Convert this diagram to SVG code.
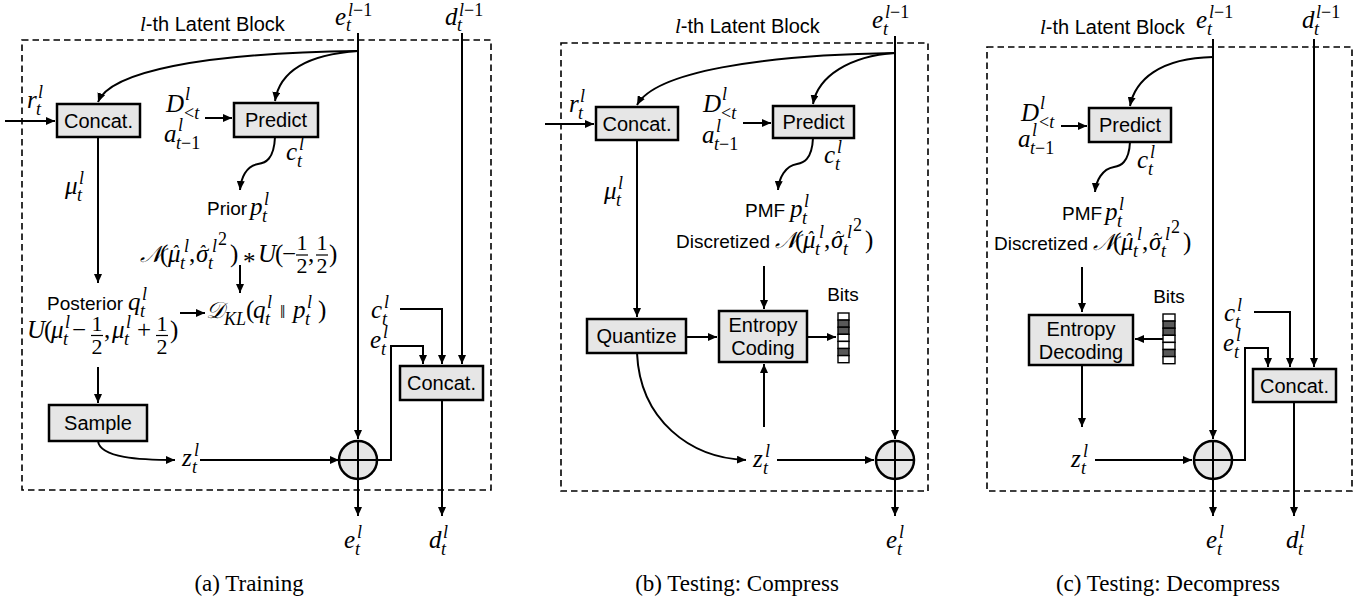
<svg xmlns="http://www.w3.org/2000/svg" width="1369" height="603" viewBox="0 0 1369 603">
<defs>
<style>
.ln{fill:none;stroke:#000;stroke-width:2}
.box{fill:#e6e6e6;stroke:#000;stroke-width:2.5}
.dash{fill:none;stroke:#000;stroke-width:1.6;stroke-dasharray:6.5 4}
.bt{font-family:"Liberation Sans",Arial,sans-serif;font-size:20px;text-anchor:middle;fill:#000}
.t{font-family:"Liberation Sans",Arial,sans-serif;font-size:20px;fill:#000}
.lb{font-family:"Liberation Sans",Arial,sans-serif;font-size:19px;fill:#000}
.m{font-family:"Liberation Serif","Times New Roman",serif;font-style:italic;font-size:25px;fill:#000}
.mi{font-family:"Liberation Serif","Times New Roman",serif;font-style:italic;font-size:21px}
.s{font-size:18px}
.u{font-style:normal}
.d{font-family:"Liberation Serif",serif;font-style:normal;font-size:22px;text-anchor:middle}
.scr{font-family:"DejaVu Serif","DejaVu Sans","Noto Sans",serif;font-style:italic;font-size:23px}
.cap{font-family:"Liberation Serif","Times New Roman",serif;font-size:23px;text-anchor:middle;fill:#000}
.fb{stroke:#000;stroke-width:1.2}
.bw{fill:#fff;stroke:#000;stroke-width:1.4}
.bd{fill:#595959;stroke:#000;stroke-width:1.4}
</style>
<marker id="ah" markerWidth="9" markerHeight="8" refX="9" refY="4" orient="auto" markerUnits="userSpaceOnUse"><path d="M0,0 L9,4 L0,8 z" fill="#000"/></marker>
</defs>
<rect width="1369" height="603" fill="#fff"/>

<!-- ================= Panel (a) ================= -->
<g id="panel-a">
<rect class="dash" x="22" y="40" width="469" height="450"/>
<text class="t" x="140" y="31"><tspan class="mi">l</tspan>-th Latent Block</text>

<g id="a-connectors">
<path class="ln" d="M358,33 V439" marker-end="url(#ah)"/>
<path class="ln" d="M462,33 V364" marker-end="url(#ah)"/>
<path class="ln" d="M358,51 C200,53 110,72 98,102" marker-end="url(#ah)"/>
<path class="ln" d="M358,51 C300,55 279,75 275,101" marker-end="url(#ah)"/>
<path class="ln" d="M5,121 H55" marker-end="url(#ah)"/>
<path class="ln" d="M205,118 H232" marker-end="url(#ah)"/>
<path class="ln" d="M275,137 C274,160 265,163 258,164 C246,166 241,178 240,190" marker-end="url(#ah)"/>
<path class="ln" d="M98,137 V283" marker-end="url(#ah)"/>
<path class="ln" d="M240,265 V293" marker-end="url(#ah)"/>
<path class="ln" d="M180,313 H205" marker-end="url(#ah)"/>
<path class="ln" d="M98,367 V403" marker-end="url(#ah)"/>
<path class="ln" d="M98,441 C100,458 140,460 175,460" marker-end="url(#ah)"/>
<path class="ln" d="M200,460 H339" marker-end="url(#ah)"/>
<path class="ln" d="M378,460 H391 V346 H423 V364" marker-end="url(#ah)"/>
<path class="ln" d="M400,309 H442 V364" marker-end="url(#ah)"/>
<path class="ln" d="M442,400 V516" marker-end="url(#ah)"/>
<path class="ln" d="M358,479 V516" marker-end="url(#ah)"/>
</g>

<g id="a-concat-in">
<rect class="box" x="57" y="104" width="83" height="33"/>
<text class="bt" x="98.5" y="128">Concat.</text>
</g>
<g id="a-predict">
<rect class="box" x="234" y="103" width="84" height="34"/>
<text class="bt" x="276" y="127">Predict</text>
</g>
<g id="a-sample">
<rect class="box" x="49" y="405" width="98" height="36"/>
<text class="bt" x="98" y="430">Sample</text>
</g>
<g id="a-concat-out">
<rect class="box" x="400" y="366" width="83" height="34"/>
<text class="bt" x="441.5" y="390">Concat.</text>
</g>
<g id="a-add">
<circle cx="358" cy="460" r="19" fill="#e6e6e6" stroke="#000" stroke-width="2.5"/>
<path class="ln" d="M339,460 H377 M358,441 V479"/>
</g>

<g id="a-labels">
<text class="m" x="335" y="25">e<tspan class="s" x="346" y="31">t</tspan><tspan class="s" x="348" y="16">l<tspan class="u">−1</tspan></tspan></text>
<text class="m" x="445" y="25">d<tspan class="s" x="457" y="31">t</tspan><tspan class="s" x="459" y="16">l<tspan class="u">−1</tspan></tspan></text>
<text class="m" x="27" y="108">r<tspan class="s" x="36" y="115">t</tspan><tspan class="s" x="38" y="98">l</tspan></text>
<text class="m" x="166" y="112">D<tspan class="s" x="185" y="100">l</tspan><tspan class="s" x="184" y="119"><tspan class="u">&lt;</tspan>t</tspan></text>
<text class="m" x="164" y="142">a<tspan class="s" x="178" y="131">l</tspan><tspan class="s" x="176" y="149">t<tspan class="u">−1</tspan></tspan></text>
<text class="m" x="286" y="160">c<tspan class="s" x="297" y="167">t</tspan><tspan class="s" x="299" y="150">l</tspan></text>
<text class="lb" x="207" y="215">Prior</text>
<text class="m" x="250" y="215">p<tspan class="s" x="262" y="222">t</tspan><tspan class="s" x="264" y="205">l</tspan></text>
<!-- N(mu^, sigma^^2) * U(-1/2, 1/2) -->
<text class="m" y="262"><tspan class="scr" x="140">𝒩</tspan><tspan class="u" x="160">(</tspan><tspan x="168">μ</tspan><tspan class="s" x="172" y="258">ˆ</tspan><tspan class="s" x="180" y="269">t</tspan><tspan class="s" x="184" y="252">l</tspan><tspan class="u" x="189" y="262">,</tspan><tspan x="196">σ</tspan><tspan class="s" x="199" y="258">ˆ</tspan><tspan class="s" x="208" y="269">t</tspan><tspan class="s" x="212" y="252">l</tspan><tspan class="s u" x="218" y="245">2</tspan><tspan class="u" x="230" y="262">)</tspan><tspan class="u" x="243" y="270">*</tspan><tspan x="258" y="262">U</tspan><tspan class="u" x="275">(</tspan><tspan class="u" x="282">−</tspan><tspan class="u" x="308">,</tspan><tspan class="u" x="329">)</tspan></text>
<text class="d" x="302" y="250">1</text><line class="fb" x1="296" y1="255" x2="308" y2="255"/><text class="d" x="302" y="273">2</text>
<text class="d" x="322" y="250">1</text><line class="fb" x1="316" y1="255" x2="328" y2="255"/><text class="d" x="322" y="273">2</text>
<!-- D_KL -->
<text class="m" y="318"><tspan class="scr" x="206">𝒟</tspan><tspan class="s" x="224" y="325">KL</tspan><tspan class="u" x="246" y="318">(</tspan><tspan x="253">q</tspan><tspan class="s" x="265" y="325">t</tspan><tspan class="s" x="267" y="308">l</tspan><tspan class="u" x="280" y="318" font-size="19">‖</tspan><tspan x="293">p</tspan><tspan class="s" x="305" y="325">t</tspan><tspan class="s" x="307" y="308">l</tspan><tspan class="u" x="318" y="318">)</tspan></text>
<text class="lb" x="47" y="310">Posterior</text>
<text class="m" x="128" y="310">q<tspan class="s" x="140" y="317">t</tspan><tspan class="s" x="142" y="300">l</tspan></text>
<!-- U(mu - 1/2, mu + 1/2) -->
<text class="m" y="338"><tspan x="27">U</tspan><tspan class="u" x="44">(</tspan><tspan x="51">μ</tspan><tspan class="s" x="63" y="345">t</tspan><tspan class="s" x="65" y="328">l</tspan><tspan class="u" x="72" y="338">−</tspan><tspan class="u" x="104">,</tspan><tspan x="112">μ</tspan><tspan class="s" x="124" y="345">t</tspan><tspan class="s" x="126" y="328">l</tspan><tspan class="u" x="137" y="338">+</tspan><tspan class="u" x="170">)</tspan></text>
<text class="d" x="97" y="331">1</text><line class="fb" x1="91" y1="335.5" x2="103" y2="335.5"/><text class="d" x="97" y="354">2</text>
<text class="d" x="162" y="331">1</text><line class="fb" x1="156" y1="335.5" x2="168" y2="335.5"/><text class="d" x="162" y="354">2</text>
<text class="m" x="65" y="194">μ<tspan class="s" x="77" y="201">t</tspan><tspan class="s" x="79" y="184">l</tspan></text>
<text class="m" x="371" y="318">c<tspan class="s" x="382" y="325">t</tspan><tspan class="s" x="384" y="308">l</tspan></text>
<text class="m" x="370" y="348">e<tspan class="s" x="381" y="355">t</tspan><tspan class="s" x="383" y="338">l</tspan></text>
<text class="m" x="182" y="466">z<tspan class="s" x="192" y="473">t</tspan><tspan class="s" x="194" y="456">l</tspan></text>
<text class="m" x="344" y="548">e<tspan class="s" x="355" y="555">t</tspan><tspan class="s" x="357" y="538">l</tspan></text>
<text class="m" x="429" y="548">d<tspan class="s" x="441" y="555">t</tspan><tspan class="s" x="443" y="538">l</tspan></text>
</g>
<text class="cap" x="249" y="591">(a) Training</text>
</g>

<!-- ================= Panel (b) ================= -->
<g id="panel-b">
<rect class="dash" x="561" y="43" width="367" height="448"/>
<text class="t" x="675" y="33"><tspan class="mi">l</tspan>-th Latent Block</text>

<g id="b-connectors">
<path class="ln" d="M895,36 V439" marker-end="url(#ah)"/>
<path class="ln" d="M895,53 C760,55 655,72 637,105" marker-end="url(#ah)"/>
<path class="ln" d="M895,53 C850,56 818,76 813,104" marker-end="url(#ah)"/>
<path class="ln" d="M545,124 H594" marker-end="url(#ah)"/>
<path class="ln" d="M743,123 H771" marker-end="url(#ah)"/>
<path class="ln" d="M813,138 C812,160 803,163 797,164 C785,166 779,178 778,190" marker-end="url(#ah)"/>
<path class="ln" d="M637,140 V317" marker-end="url(#ah)"/>
<path class="ln" d="M686,337 H717" marker-end="url(#ah)"/>
<path class="ln" d="M764,266 V309" marker-end="url(#ah)"/>
<path class="ln" d="M807,337 H836" marker-end="url(#ah)"/>
<path class="ln" d="M764,427 V364" marker-end="url(#ah)"/>
<path class="ln" d="M637,353 C640,420 690,458 746,460" marker-end="url(#ah)"/>
<path class="ln" d="M777,460 H874" marker-end="url(#ah)"/>
<path class="ln" d="M895,479 V516" marker-end="url(#ah)"/>
</g>

<g id="b-concat">
<rect class="box" x="596" y="107" width="82" height="33"/>
<text class="bt" x="637" y="131">Concat.</text>
</g>
<g id="b-predict">
<rect class="box" x="773" y="106" width="81" height="32"/>
<text class="bt" x="813.5" y="129">Predict</text>
</g>
<g id="b-quantize">
<rect class="box" x="587" y="319" width="99" height="34"/>
<text class="bt" x="636.5" y="343">Quantize</text>
</g>
<g id="b-entropy">
<rect class="box" x="719" y="311" width="88" height="51"/>
<text class="bt" x="763" y="332">Entropy</text>
<text class="bt" x="763" y="355">Coding</text>
</g>
<g id="b-bits">
<text class="lb" x="843" y="301" text-anchor="middle" font-size="20">Bits</text>
<rect class="bw" x="838" y="313" width="11" height="7.1"/>
<rect class="bd" x="838" y="320.1" width="11" height="7.1"/>
<rect class="bd" x="838" y="327.2" width="11" height="7.1"/>
<rect class="bw" x="838" y="334.3" width="11" height="7.1"/>
<rect class="bw" x="838" y="341.4" width="11" height="7.1"/>
<rect class="bd" x="838" y="348.5" width="11" height="7.1"/>
<rect class="bw" x="838" y="355.6" width="11" height="7.1"/>
</g>
<g id="b-add">
<circle cx="895" cy="460" r="19" fill="#e6e6e6" stroke="#000" stroke-width="2.5"/>
<path class="ln" d="M876,460 H914 M895,441 V479"/>
</g>

<g id="b-labels">
<text class="m" x="872" y="28">e<tspan class="s" x="883" y="35">t</tspan><tspan class="s" x="885" y="18">l<tspan class="u">−1</tspan></tspan></text>
<text class="m" x="569" y="112">r<tspan class="s" x="578" y="119">t</tspan><tspan class="s" x="580" y="102">l</tspan></text>
<text class="m" x="703" y="112">D<tspan class="s" x="722" y="100">l</tspan><tspan class="s" x="721" y="119"><tspan class="u">&lt;</tspan>t</tspan></text>
<text class="m" x="702" y="143">a<tspan class="s" x="716" y="132">l</tspan><tspan class="s" x="714" y="150">t<tspan class="u">−1</tspan></tspan></text>
<text class="m" x="824" y="163">c<tspan class="s" x="835" y="170">t</tspan><tspan class="s" x="837" y="153">l</tspan></text>
<text class="m" x="604" y="199">μ<tspan class="s" x="616" y="206">t</tspan><tspan class="s" x="618" y="189">l</tspan></text>
<text class="lb" x="745" y="217">PMF</text>
<text class="m" x="790" y="217">p<tspan class="s" x="802" y="224">t</tspan><tspan class="s" x="804" y="207">l</tspan></text>
<text class="lb" x="676" y="248" font-size="18">Discretized</text>
<text class="m" y="248"><tspan class="scr" x="775">𝒩</tspan><tspan class="u" x="795">(</tspan><tspan x="803">μ</tspan><tspan class="s" x="807" y="244">ˆ</tspan><tspan class="s" x="815" y="255">t</tspan><tspan class="s" x="819" y="238">l</tspan><tspan class="u" x="824" y="248">,</tspan><tspan x="831">σ</tspan><tspan class="s" x="834" y="244">ˆ</tspan><tspan class="s" x="843" y="255">t</tspan><tspan class="s" x="847" y="238">l</tspan><tspan class="s u" x="853" y="231">2</tspan><tspan class="u" x="865" y="248">)</tspan></text>
<text class="m" x="753" y="467">z<tspan class="s" x="763" y="474">t</tspan><tspan class="s" x="765" y="457">l</tspan></text>
<text class="m" x="886" y="548">e<tspan class="s" x="897" y="555">t</tspan><tspan class="s" x="899" y="538">l</tspan></text>
</g>
<text class="cap" x="737" y="591">(b) Testing: Compress</text>
</g>

<!-- ================= Panel (c) ================= -->
<g id="panel-c">
<rect class="dash" x="987" y="47" width="365" height="444"/>
<text class="t" x="1040" y="34"><tspan class="mi">l</tspan>-th Latent Block</text>

<g id="c-connectors">
<path class="ln" d="M1213,39 V439" marker-end="url(#ah)"/>
<path class="ln" d="M1314,39 V367" marker-end="url(#ah)"/>
<path class="ln" d="M1213,57 C1160,58 1135,80 1130,106" marker-end="url(#ah)"/>
<path class="ln" d="M1061,126 H1087" marker-end="url(#ah)"/>
<path class="ln" d="M1130,142 C1129,163 1120,166 1114,167 C1102,169 1096,181 1095,192" marker-end="url(#ah)"/>
<path class="ln" d="M1082,267 V312" marker-end="url(#ah)"/>
<path class="ln" d="M1163,339 H1135" marker-end="url(#ah)"/>
<path class="ln" d="M1082,365 V427" marker-end="url(#ah)"/>
<path class="ln" d="M1095,460 H1192" marker-end="url(#ah)"/>
<path class="ln" d="M1232,460 H1245 V348 H1268 V367" marker-end="url(#ah)"/>
<path class="ln" d="M1254,312 H1290 V367" marker-end="url(#ah)"/>
<path class="ln" d="M1294,402 V516" marker-end="url(#ah)"/>
<path class="ln" d="M1213,479 V516" marker-end="url(#ah)"/>
</g>

<g id="c-predict">
<rect class="box" x="1089" y="108" width="82" height="34"/>
<text class="bt" x="1130" y="132">Predict</text>
</g>
<g id="c-entropy">
<rect class="box" x="1029" y="315" width="104" height="50"/>
<text class="bt" x="1081" y="336">Entropy</text>
<text class="bt" x="1081" y="359">Decoding</text>
</g>
<g id="c-bits">
<text class="lb" x="1169" y="303" text-anchor="middle" font-size="20">Bits</text>
<rect class="bw" x="1163" y="314" width="12" height="7.1"/>
<rect class="bd" x="1163" y="321.1" width="12" height="7.1"/>
<rect class="bd" x="1163" y="328.2" width="12" height="7.1"/>
<rect class="bw" x="1163" y="335.3" width="12" height="7.1"/>
<rect class="bw" x="1163" y="342.4" width="12" height="7.1"/>
<rect class="bd" x="1163" y="349.5" width="12" height="7.1"/>
<rect class="bw" x="1163" y="356.6" width="12" height="7.1"/>
</g>
<g id="c-concat">
<rect class="box" x="1253" y="369" width="83" height="33"/>
<text class="bt" x="1294.5" y="393">Concat.</text>
</g>
<g id="c-add">
<circle cx="1213" cy="460" r="19" fill="#e6e6e6" stroke="#000" stroke-width="2.5"/>
<path class="ln" d="M1194,460 H1232 M1213,441 V479"/>
</g>

<g id="c-labels">
<text class="m" x="1196" y="28">e<tspan class="s" x="1207" y="35">t</tspan><tspan class="s" x="1209" y="18">l<tspan class="u">−1</tspan></tspan></text>
<text class="m" x="1302" y="28">d<tspan class="s" x="1314" y="35">t</tspan><tspan class="s" x="1316" y="18">l<tspan class="u">−1</tspan></tspan></text>
<text class="m" x="1021" y="121">D<tspan class="s" x="1040" y="109">l</tspan><tspan class="s" x="1039" y="128"><tspan class="u">&lt;</tspan>t</tspan></text>
<text class="m" x="1018" y="147">a<tspan class="s" x="1032" y="136">l</tspan><tspan class="s" x="1030" y="154">t<tspan class="u">−1</tspan></tspan></text>
<text class="m" x="1137" y="168">c<tspan class="s" x="1148" y="175">t</tspan><tspan class="s" x="1150" y="158">l</tspan></text>
<text class="lb" x="1062" y="220">PMF</text>
<text class="m" x="1105" y="220">p<tspan class="s" x="1117" y="227">t</tspan><tspan class="s" x="1119" y="210">l</tspan></text>
<text class="lb" x="994" y="250" font-size="18">Discretized</text>
<text class="m" y="250"><tspan class="scr" x="1093">𝒩</tspan><tspan class="u" x="1113">(</tspan><tspan x="1121">μ</tspan><tspan class="s" x="1125" y="246">ˆ</tspan><tspan class="s" x="1133" y="257">t</tspan><tspan class="s" x="1137" y="240">l</tspan><tspan class="u" x="1142" y="250">,</tspan><tspan x="1149">σ</tspan><tspan class="s" x="1152" y="246">ˆ</tspan><tspan class="s" x="1161" y="257">t</tspan><tspan class="s" x="1165" y="240">l</tspan><tspan class="s u" x="1171" y="233">2</tspan><tspan class="u" x="1183" y="250">)</tspan></text>
<text class="m" x="1224" y="321">c<tspan class="s" x="1235" y="328">t</tspan><tspan class="s" x="1237" y="311">l</tspan></text>
<text class="m" x="1223" y="351">e<tspan class="s" x="1234" y="358">t</tspan><tspan class="s" x="1236" y="341">l</tspan></text>
<text class="m" x="1071" y="467">z<tspan class="s" x="1081" y="474">t</tspan><tspan class="s" x="1083" y="457">l</tspan></text>
<text class="m" x="1206" y="548">e<tspan class="s" x="1217" y="555">t</tspan><tspan class="s" x="1219" y="538">l</tspan></text>
<text class="m" x="1286" y="548">d<tspan class="s" x="1298" y="555">t</tspan><tspan class="s" x="1300" y="538">l</tspan></text>
</g>
<text class="cap" x="1168" y="591">(c) Testing: Decompress</text>
</g>
</svg>
